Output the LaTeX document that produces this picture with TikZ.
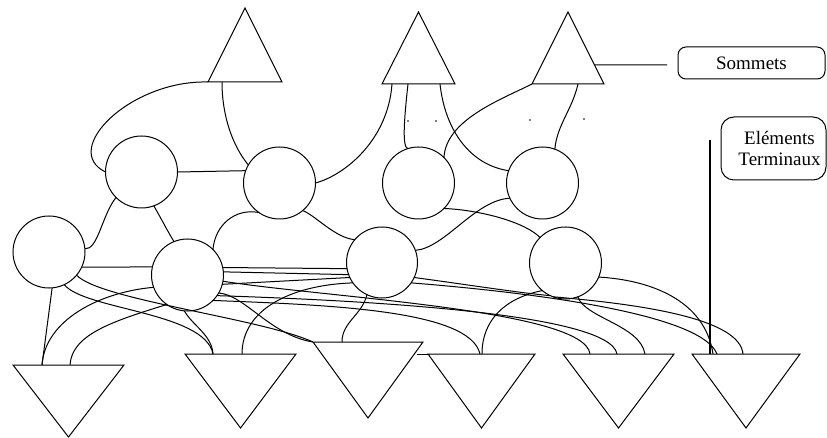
\documentclass[tikz,border=0pt]{standalone}
\usepackage{fontspec}
\setmainfont{Liberation Serif}
\usetikzlibrary{calc}
\begin{document}
\begin{tikzpicture}[x=1pt,y=-1pt,line width=1pt,
  holder/.style={inner sep=0pt,outer sep=0pt},
  circ/.style={circle,draw,minimum size=72pt,inner sep=0pt,outer sep=0pt},
  lbl/.style={draw,rounded corners=8pt,inner sep=0pt,outer sep=0pt,font=\fontsize{19}{21.5}\selectfont,align=center}]
\path[use as bounding box] (0,0) rectangle (827,438);
% top triangles (sommets)
\node[holder,minimum width=74pt,minimum height=74pt] (T1) at (245,45) {};
\node[holder,minimum width=73pt,minimum height=72pt] (T2) at (418.5,48) {};
\node[holder,minimum width=72pt,minimum height=72pt] (T3) at (568,48) {};
\foreach \t in {T1,T2,T3} \draw (\t.south west) -- (\t.north) -- (\t.south east) -- cycle;
% bottom triangles
\node[holder,minimum width=111pt,minimum height=72pt] (B1) at (68.5,401) {};
\node[holder,minimum width=111pt,minimum height=74pt] (B2) at (240.5,391) {};
\node[holder,minimum width=110pt,minimum height=76pt] (B3) at (368,380) {};
\node[holder,minimum width=107pt,minimum height=74pt] (B4) at (481.5,391) {};
\node[holder,minimum width=111pt,minimum height=74pt] (B5) at (618.5,391) {};
\node[holder,minimum width=108pt,minimum height=74pt] (B6) at (746,391) {};
\foreach \b in {B1,B2,B3,B4,B5,B6} \draw (\b.north west) -- (\b.south) -- (\b.north east) -- cycle;
\draw (B4.north west) -- ++(-11,0);
% circles
\node[circ] (C1) at (141.5,172) {};
\node[circ] (C2) at (279.5,183) {};
\node[circ] (C3) at (418.5,183) {};
\node[circ] (C4) at (542.5,183) {};
\node[circ] (D1) at (49,252) {};
\node[circ] (D2) at (187.5,275) {};
\node[circ,minimum size=71pt] (D3) at (382,262.5) {};
\node[circ] (D4) at (565.5,263) {};
% labels
\node[lbl,minimum width=147pt,minimum height=32pt] (som) at (751.5,63) {Sommets};
\node[lbl,rounded corners=13pt,minimum width=105pt,minimum height=63pt] (term) at (773.5,148.5) {\hspace*{12pt}Eléments\\\hspace*{12pt}Terminaux};
\coordinate (somend) at (667,65);
\coordinate (termend) at (710,140);
\draw ($(T3.north)!0.736!(T3.south east)$) -- (somend);
\draw[line width=1.3pt] (termend) -- ([xshift=18pt]B6.north west);
% dots
\foreach \p in {(408,121),(436,121),(530,120),(584,119)} \fill \p circle (0.8pt);
% upper connectors
\draw (T1.south west) .. controls (130,80) and (60,150) .. (C1.west);
\draw ([xshift=14pt]T1.south west) .. controls (222,115) and (232,145) .. (C2.150);
\draw (C1.east) -- (C2.160);
\draw (C2.east) .. controls (345,175) and (388,140) .. ([xshift=10pt]T2.south west);
\draw ([xshift=26pt]T2.south west) .. controls (404,120) and (402,148) .. (C3.107);
\draw ([xshift=58pt]T2.south west) .. controls (445,130) and (470,165) .. (C4.160);
\draw (C3.45) .. controls (446,120) and (500,100) .. (T3.south west);
\draw ([xshift=46pt]T3.south west) .. controls (572,110) and (557,125) .. (C4.70);
% middle connectors
\draw (C1.225) .. controls (102,215) and (98,250) .. (D1.5);
\draw (C1.290) .. controls (162,220) and (168,232) .. (D2.112);
\draw (D2.45) .. controls (215,225) and (235,208) .. (C2.235);
\draw (C2.310) .. controls (315,215) and (335,238) .. (D3.140);
\draw (C3.315) .. controls (480,210) and (525,222) .. (D4.135);
\draw (C4.205) .. controls (475,200) and (445,248) .. (D3.20);
\draw (D1.-25) -- (D2.167);
% lower connectors
\draw (D1.275) -- ([xshift=29pt]B1.north west);
\draw (D2.200) .. controls (100,292) and (45,320) .. ([xshift=29pt]B1.north west);
\draw (D2.235) .. controls (110,322) and (72,335) .. ([xshift=57pt]B1.north west);
\draw (D1.295) .. controls (85,310) and (205,312) .. ([xshift=28pt]B2.north west);
\draw (D2.265) .. controls (192,325) and (212,335) .. ([xshift=28pt]B2.north west);
\draw (D1.320) .. controls (100,300) and (260,318) .. (B3.north west);
\draw (D2.330) .. controls (245,295) and (270,335) .. (B3.north west);
\draw (D3.215) .. controls (290,285) and (242,310) .. ([xshift=57pt]B2.north west);
\draw (D3.245) .. controls (362,315) and (342,322) .. ([xshift=29pt]B3.north west);
\draw (D2.12) -- (D3.190);
\draw (D2.5) -- (D3.200);
\draw (D2.345) -- (D3.205);
\draw (D3.335) .. controls (470,285) and (520,293) .. (D4.245);
\draw (D4.230) .. controls (505,298) and (482,320) .. ([xshift=54pt]B4.north west);
\draw (D2.315) .. controls (330,305) and (470,310) .. ([xshift=52pt]B4.north west);
\draw (D2.350) .. controls (330,298) and (585,310) .. ([xshift=27pt]B5.north west);
\draw (D2.325) .. controls (350,300) and (610,312) .. ([xshift=54pt]B5.north west);
\draw (D4.290) .. controls (585,318) and (640,325) .. ([xshift=82pt]B5.north west);
\draw (D4.250) .. controls (650,305) and (740,320) .. ([xshift=51pt]B6.north west);
\draw (D3.325) .. controls (500,290) and (700,310) .. ([xshift=25pt]B6.north west);
\draw (D4.337) .. controls (650,280) and (705,300) .. ([xshift=21pt]B6.north west);
\end{tikzpicture}
\end{document}
